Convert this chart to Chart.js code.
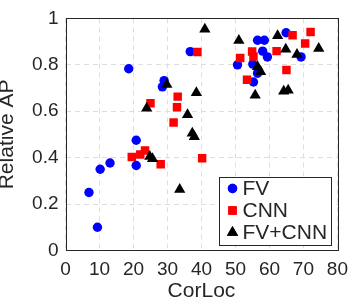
<!DOCTYPE html>
<html>
<head>
<meta charset="utf-8">
<script src="https://cdn.jsdelivr.net/npm/chart.js@4"></script>
<style>
  html, body { margin: 0; padding: 0; background: #fff; }
  #wrap { width: 356px; height: 307px; }
</style>
</head>
<body>
<div id="wrap"><canvas id="scatter"></canvas></div>
<script>
// values
const fvCorLoc = [6.9, 9.4, 10.2, 13.1, 20.8, 20.8, 18.6, 29.0, 28.5, 36.7, 50.6, 56.5, 58.5, 58.0, 59.4, 55.1, 56.5, 55.3, 64.9, 69.3];
const fvAP = [0.25, 0.10, 0.35, 0.377, 0.475, 0.366, 0.783, 0.732, 0.705, 0.857, 0.80, 0.906, 0.906, 0.859, 0.834, 0.803, 0.764, 0.726, 0.938, 0.834];

const cnnCorLoc = [19.5, 22.0, 23.4, 28.0, 25.0, 33.0, 32.8, 31.8, 38.8, 40.2, 51.4, 54.9, 55.3, 53.4, 62.1, 66.8, 70.5, 72.1, 65.0];
const cnnAP = [0.403, 0.414, 0.431, 0.372, 0.634, 0.663, 0.617, 0.551, 0.855, 0.397, 0.829, 0.857, 0.836, 0.736, 0.859, 0.927, 0.892, 0.941, 0.778];

const bothCorLoc = [24.8, 25.6, 33.6, 23.9, 29.8, 35.9, 37.3, 37.9, 38.5, 41.0, 51.0, 62.4, 64.8, 68.1, 74.5, 56.5, 57.4, 55.8, 64.2, 65.5];
const bothAP = [0.405, 0.395, 0.263, 0.613, 0.715, 0.585, 0.505, 0.49, 0.68, 0.953, 0.905, 0.925, 0.867, 0.844, 0.87, 0.792, 0.77, 0.669, 0.686, 0.69];

const xTicks = [0, 10, 20, 30, 40, 50, 60, 70, 80];
const yTicks = [0, 0.2, 0.4, 0.6, 0.8, 1];

const textColor = '#262626';
const fontFamily = '"Liberation Sans", Arial, Helvetica, sans-serif';

const toPoints = (xs, ys) => xs.map((x, i) => ({ x: x, y: ys[i] }));

// MATLAB style box around the axes
const boxPlugin = {
  id: 'axesBox',
  beforeDatasetsDraw(chart) {
    const { ctx, chartArea: a } = chart;
    ctx.save();
    ctx.strokeStyle = textColor;
    ctx.lineWidth = 1;
    ctx.setLineDash([]);
    ctx.strokeRect(Math.round(a.left) + 0.5, Math.round(a.top) + 0.5,
      Math.round(a.right - a.left), Math.round(a.bottom - a.top));
    ctx.restore();
  }
};

// legend drawn inside the lower right corner
const insideLegend = {
  id: 'insideLegend',
  afterDatasetsDraw(chart) {
    const { ctx, chartArea: a } = chart;
    const w = 112, h = 68;
    const left = Math.round(a.right - 6 - w) + 0.5;
    const top = Math.round(a.bottom - 6 - h) + 0.5;
    ctx.save();
    ctx.fillStyle = '#fff';
    ctx.fillRect(left, top, w, h);
    ctx.strokeStyle = textColor;
    ctx.lineWidth = 1;
    ctx.strokeRect(left, top, w, h);
    ctx.font = '21px ' + fontFamily;
    ctx.textBaseline = 'middle';
    chart.data.datasets.forEach((ds, i) => {
      const y = top + 11 + i * 22;
      ctx.fillStyle = ds.backgroundColor;
      Chart.helpers.drawPoint(ctx, {
        pointStyle: ds.pointStyle,
        radius: ds.pointRadius,
        rotation: 0,
        borderWidth: 0
      }, left + 13, y);
      ctx.fill();
      ctx.fillStyle = textColor;
      ctx.fillText(ds.label, left + 23, y + 1);
    });
    ctx.restore();
  }
};

new Chart(document.getElementById('scatter'), {
  type: 'scatter',
  data: {
    datasets: [
      {
        label: 'FV',
        data: toPoints(fvCorLoc, fvAP),
        pointStyle: 'circle',
        pointRadius: 4.7,
        backgroundColor: '#0000ff',
        borderColor: '#0000ff',
        borderWidth: 0,
        order: 2
      },
      {
        label: 'CNN',
        data: toPoints(cnnCorLoc, cnnAP),
        pointStyle: 'rect',
        pointRadius: 6,
        backgroundColor: '#ff0000',
        borderColor: '#ff0000',
        borderWidth: 0,
        order: 1
      },
      {
        label: 'FV+CNN',
        data: toPoints(bothCorLoc, bothAP),
        pointStyle: 'triangle',
        pointRadius: 6.5,
        backgroundColor: '#000000',
        borderColor: '#000000',
        borderWidth: 0,
        order: 0
      }
    ]
  },
  options: {
    responsive: true,
    maintainAspectRatio: false,
    animation: false,
    layout: { padding: { top: 12, right: 13, left: 0, bottom: 0 } },
    plugins: {
      legend: { display: false },
      tooltip: { enabled: false }
    },
    scales: {
      x: {
        type: 'linear',
        min: 0,
        max: 80,
        afterFit(scale) { scale.height = 56.5; },
        afterBuildTicks(scale) { scale.ticks = xTicks.map(v => ({ value: v })); },
        grid: {
          color: '#dedede',
          drawTicks: false
        },
        border: { display: false, dash: [5, 4] },
        ticks: {
          color: textColor,
          font: { family: fontFamily, size: 19 },
          padding: 8
        },
        title: {
          display: true,
          text: 'CorLoc',
          color: textColor,
          font: { family: fontFamily, size: 21, lineHeight: 1 },
          padding: { top: 0, bottom: 5 }
        }
      },
      y: {
        type: 'linear',
        min: 0,
        max: 1,
        afterFit(scale) { scale.width = 65.5; },
        afterBuildTicks(scale) { scale.ticks = yTicks.map(v => ({ value: v })); },
        grid: {
          color: '#dedede',
          drawTicks: false
        },
        border: { display: false, dash: [5, 4] },
        ticks: {
          color: textColor,
          font: { family: fontFamily, size: 19 },
          padding: 7,
          callback: v => String(Number(v.toFixed(1)))
        },
        title: {
          display: true,
          text: 'Relative AP',
          color: textColor,
          font: { family: fontFamily, size: 21, lineHeight: 0.65 },
          padding: { top: 0, bottom: 0 }
        }
      }
    }
  },
  plugins: [boxPlugin, insideLegend]
});
</script>
</body>
</html>
